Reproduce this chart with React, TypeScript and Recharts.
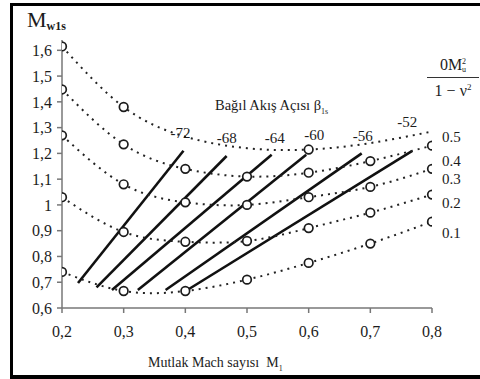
import { ComposedChart, Line, XAxis, YAxis } from 'recharts'

// Mutlak Mach sayısı M1
const machNumbers = [0.2, 0.3, 0.4, 0.5, 0.6, 0.7, 0.8]

// M_w1s along each 0M²u/(1-ν²) curve
const curve05 = [1.615, 1.38, 1.265, 1.22, 1.215, 1.24, 1.285]
const curve04 = [1.448, 1.235, 1.14, 1.11, 1.125, 1.17, 1.23]
const curve03 = [1.27, 1.08, 1.01, 1.0, 1.03, 1.07, 1.14]
const curve02 = [1.03, 0.895, 0.857, 0.86, 0.91, 0.97, 1.04]
const curve01 = [0.74, 0.666, 0.666, 0.71, 0.775, 0.85, 0.935]
const curveNames = ['0.5', '0.4', '0.3', '0.2', '0.1']

// which measured points are visible as circles on the top curve
const circlesTop = [1, 1, 0, 0, 1, 0, 0]
const circlesAll = [1, 1, 1, 1, 1, 1, 1]

// Bağıl akış açısı β1s lines
const flowAngles = ['-72', '-68', '-64', '-60', '-56', '-52']
const angleStartM = [0.226, 0.256, 0.281, 0.323, 0.368, 0.4]
const angleStartMw = [0.697, 0.68, 0.67, 0.67, 0.67, 0.665]
const angleEndM = [0.397, 0.467, 0.54, 0.596, 0.686, 0.768]
const angleEndMw = [1.21, 1.19, 1.195, 1.195, 1.2, 1.21]

const xTicks = [0.2, 0.3, 0.4, 0.5, 0.6, 0.7, 0.8]
const yTicks = [0.6, 0.7, 0.8, 0.9, 1.0, 1.1, 1.2, 1.3, 1.4, 1.5, 1.6]

const FONT = "'Times New Roman', 'Liberation Serif', 'DejaVu Serif', serif"
const INK = '#1c1c1c'

const rows = machNumbers.map((m, i) => ({
	m,
	c05: curve05[i],
	c04: curve04[i],
	c03: curve03[i],
	c02: curve02[i],
	c01: curve01[i],
}))

const angleLines = flowAngles.map((name, i) => ({
	name,
	data: [
		{ m: angleStartM[i], v: angleStartMw[i] },
		{ m: angleEndM[i], v: angleEndMw[i] },
	],
}))

// label nudges (style only)
const angleLabelDx = [-3, 0, 3, 8, 1, -5]
const angleLabelDy = [-18, -18, -17, -20, -17, -29]
const endLabelDy = [6, 15, 10, 8, 11]

const fmt = (v: number) => (v === 1 ? '1' : v.toFixed(1).replace('.', ','))

const circleDot = (shown: number[], name: string) => (props: any) => {
	const { cx, cy, index } = props
	if (!shown[index] || cx == null || cy == null) {
		return <g key={`${name}-${index}`} />
	}
	return (
		<circle
			key={`${name}-${index}`}
			cx={cx}
			cy={cy}
			r={4.3}
			fill="#fff"
			stroke={INK}
			strokeWidth={1.7}
		/>
	)
}

const endLabel = (text: string, dy: number) => (props: any) => {
	const { x, y, index } = props
	if (index !== machNumbers.length - 1) return null
	return (
		<text
			key={`end-${text}`}
			x={x + 10}
			y={y + dy}
			dominantBaseline="central"
			style={{ fontFamily: FONT }}
			fontSize={15}
			fill={INK}
		>
			{text}
		</text>
	)
}

const angleLabel = (text: string, dx: number, dy: number) => (props: any) => {
	const { x, y, index } = props
	if (index !== 1) return null
	return (
		<text
			key={`ang-${text}`}
			x={x + dx}
			y={y + dy}
			textAnchor="middle"
			dominantBaseline="central"
			style={{ fontFamily: FONT }}
			fontSize={15}
			fill={INK}
		>
			{text}
		</text>
	)
}

const curveKeys = ['c05', 'c04', 'c03', 'c02', 'c01']

export default function App() {
	return (
		<div
			style={{
				position: 'absolute',
				left: 0,
				top: 0,
				width: 480,
				height: 379,
				overflow: 'hidden',
				background: '#fff',
				fontFamily: FONT,
				color: INK,
			}}
		>
			<div
				style={{
					position: 'absolute',
					left: 10,
					top: 3,
					width: 480,
					height: 376,
					boxSizing: 'border-box',
					borderTop: '3px solid #000',
					borderLeft: '3px solid #000',
					borderBottom: '4px solid #000',
				}}
			/>
			<div style={{ position: 'absolute', left: 0, top: 0 }}>
				<ComposedChart
					width={480}
					height={379}
					data={rows}
					margin={{ top: 40, right: 48, bottom: 31, left: 22 }}
					style={{ fontFamily: FONT }}
				>
					<XAxis
						dataKey="m"
						type="number"
						domain={[0.2, 0.8]}
						ticks={xTicks}
						tickFormatter={fmt}
						allowDataOverflow
						height={40}
						tickSize={5}
						tickMargin={13}
						axisLine={{ stroke: '#777', strokeWidth: 1.5 }}
						tickLine={{ stroke: '#777', strokeWidth: 1.5 }}
						tick={{ fill: INK, fontSize: 16, style: { fontFamily: FONT } }}
					/>
					<YAxis
						type="number"
						domain={[0.6, 1.64]}
						ticks={yTicks}
						tickFormatter={fmt}
						allowDataOverflow
						width={40}
						tickSize={5}
						tickMargin={5}
						axisLine={{ stroke: '#777', strokeWidth: 1.5 }}
						tickLine={{ stroke: '#777', strokeWidth: 1.5 }}
						tick={{ fill: INK, fontSize: 16, style: { fontFamily: FONT } }}
					/>
					{angleLines.map((ln, i) => (
						<Line
							key={ln.name}
							data={ln.data}
							dataKey="v"
							type="linear"
							stroke="#111"
							strokeWidth={2.6}
							dot={false}
							activeDot={false}
							label={angleLabel(ln.name, angleLabelDx[i], angleLabelDy[i])}
							isAnimationActive={false}
						/>
					))}
					{curveKeys.map((k, i) => (
						<Line
							key={k}
							dataKey={k}
							type="natural"
							stroke="#222"
							strokeWidth={2}
							strokeDasharray="2 5"
							dot={circleDot(i === 0 ? circlesTop : circlesAll, k)}
							activeDot={false}
							label={endLabel(curveNames[i], endLabelDy[i])}
							isAnimationActive={false}
						/>
					))}
				</ComposedChart>
			</div>
			<div style={{ position: 'absolute', left: 27, top: 7, whiteSpace: 'nowrap' }}>
				<span style={{ fontSize: 22 }}>M</span>
				<span style={{ fontSize: 12, fontWeight: 'bold', position: 'relative', top: 3 }}>w1s</span>
			</div>
			<div
				style={{
					position: 'absolute',
					left: 215,
					top: 97,
					fontSize: 14.5,
					whiteSpace: 'nowrap',
				}}
			>
				Bağıl Akış Açısı β<sub style={{ fontSize: 8 }}>1s</sub>
			</div>
			<div
				style={{
					position: 'absolute',
					left: 427,
					top: 54,
					width: 52,
					textAlign: 'center',
					fontSize: 16,
					whiteSpace: 'nowrap',
				}}
			>
				<div style={{ borderBottom: '1.5px solid #333', paddingBottom: 1, lineHeight: '22px' }}>
					0M
					<span style={{ display: 'inline-flex', flexDirection: 'column', fontSize: 8, lineHeight: '8px', verticalAlign: 'middle' }}>
						<span>2</span>
						<span>u</span>
					</span>
				</div>
				<div style={{ lineHeight: '18px' }}>
					1 − ν<sup style={{ fontSize: 9 }}>2</sup>
				</div>
			</div>
			<div
				style={{
					position: 'absolute',
					left: 148,
					top: 355,
					fontSize: 14,
					whiteSpace: 'nowrap',
				}}
			>
				Mutlak Mach sayısı&nbsp;&nbsp;M<sub style={{ fontSize: 8 }}>1</sub>
			</div>
		</div>
	)
}
